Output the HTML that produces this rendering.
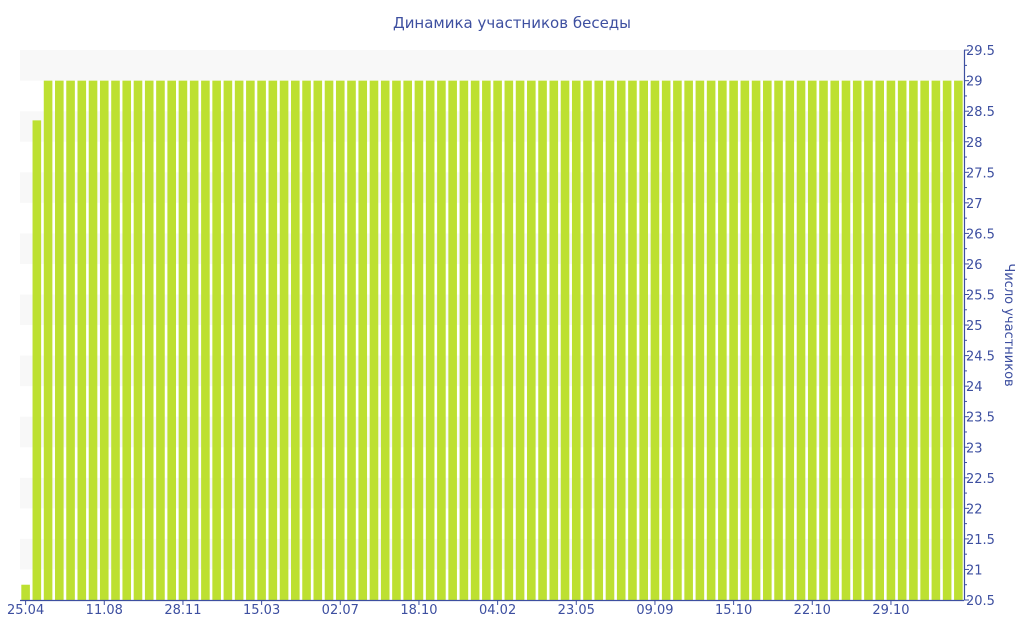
<!DOCTYPE html>
<html><head><meta charset="utf-8"><style>
html,body{margin:0;padding:0;background:#fff;}
svg{display:block;font-family:"Liberation Sans","DejaVu Sans",sans-serif;}
</style></head><body>
<svg id="s" width="1024" height="640" xmlns="http://www.w3.org/2000/svg">
<text x="512" y="28" text-anchor="middle" font-size="15" fill="#3d4fa0" font-family="DejaVu Sans, sans-serif">Динамика участников беседы</text>
<g id="bands"></g><g id="bars"></g><g id="axes"></g>
<text transform="translate(1005,325) rotate(90)" text-anchor="middle" font-size="13" fill="#3d4fa0" font-family="DejaVu Sans, sans-serif">Число участников</text>
</svg>
<script>
var NS="http://www.w3.org/2000/svg";
function el(p,t,a,txt){var e=document.createElementNS(NS,t);for(var k in a)e.setAttribute(k,a[k]);if(txt)e.textContent=txt;document.getElementById(p).appendChild(e);}
function Y(v){return 600-(v-20.5)*61.1;}
var L=20,R=964;
for(var v=21;v<=29;v+=1){el('bands','rect',{x:L,y:Y(v+0.5),width:R-L,height:Y(v)-Y(v+0.5),fill:'#f8f8f8'});}
var n=84,p=(R-L)/n,w=8.6;
for(var i=0;i<n;i++){var val=i==0?20.75:(i==1?28.35:29);
 el('bars','rect',{x:L+i*p+1.3,y:Y(val),width:w,height:600-Y(val),fill:'#bde031'});}
el('axes','line',{x1:L,y1:600.5,x2:R,y2:600.5,stroke:'#3d4fa0','stroke-width':1.2});
el('axes','line',{x1:R+0.5,y1:50,x2:R+0.5,y2:600,stroke:'#3d4fa0','stroke-width':1.2});
for(var v=20.5;v<=29.51;v+=0.25){var y=Y(v);var maj=Math.abs(v*2-Math.round(v*2))<0.01;
 el('axes','line',{x1:R,y1:y,x2:R+(maj?5:3),y2:y,stroke:'#3d4fa0','stroke-width':1});
 if(maj)el('axes','text',{x:R+2,y:y+5,'font-size':13,fill:'#3d4fa0','font-family':'DejaVu Sans, sans-serif'},String(v));}
var labs=['25.04','11.08','28.11','15.03','02.07','18.10','04.02','23.05','09.09','15.10','22.10','29.10'];
for(var j=0;j<labs.length;j++){var x=L+(j*7)*p+p/2;
 el('axes','line',{x1:x,y1:600,x2:x,y2:605,stroke:'#3d4fa0','stroke-width':1});
 el('axes','text',{x:x,y:614,'text-anchor':'middle','font-size':13,fill:'#3d4fa0','font-family':'DejaVu Sans, sans-serif'},labs[j]);}
</script>
</body></html>
